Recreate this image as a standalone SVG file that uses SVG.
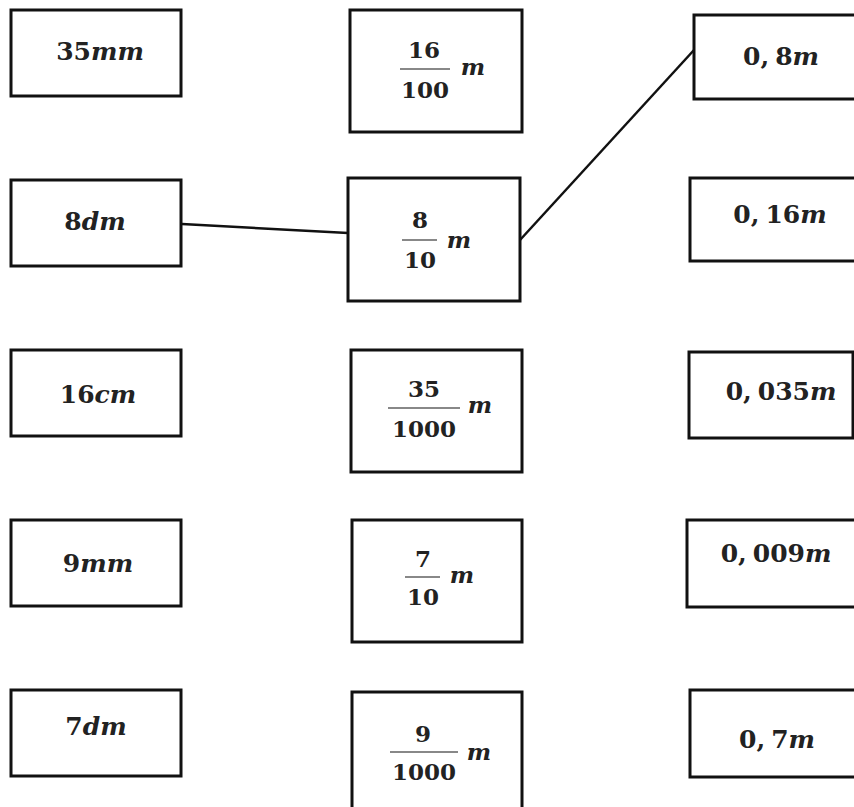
<svg xmlns="http://www.w3.org/2000/svg" width="854" height="807" viewBox="0 0 854 807">
<style>
.box{fill:#fff;stroke:#111;stroke-width:3}
.lbl{font-family:"DejaVu Serif","Liberation Serif",serif;font-size:25px;font-weight:bold;fill:#222;text-anchor:middle}
.fr{font-family:"DejaVu Serif","Liberation Serif",serif;font-size:23px;font-weight:bold;fill:#222;text-anchor:middle}
.u{font-style:italic;font-weight:bold}
.bar{stroke:#888;stroke-width:2}
.conn{stroke:#111;stroke-width:2.5;fill:none}
</style>
<rect width="854" height="807" fill="#fff"/>
<g id="connectors">
<line class="conn" x1="182" y1="224" x2="348" y2="233"/>
<line class="conn" x1="520" y1="240" x2="694" y2="50"/>
</g>
<g id="n-35mm"><rect class="box" x="11" y="10" width="170" height="86"/><text class="lbl" x="100" y="60">35<tspan class="u">mm</tspan></text></g>
<g id="n-8dm"><rect class="box" x="11" y="180" width="170" height="86"/><text class="lbl" x="95" y="230">8<tspan class="u">dm</tspan></text></g>
<g id="n-16cm"><rect class="box" x="11" y="350" width="170" height="86"/><text class="lbl" x="98" y="403">16<tspan class="u">cm</tspan></text></g>
<g id="n-9mm"><rect class="box" x="11" y="520" width="170" height="86"/><text class="lbl" x="98" y="572">9<tspan class="u">mm</tspan></text></g>
<g id="n-7dm"><rect class="box" x="11" y="690" width="170" height="86"/><text class="lbl" x="96" y="735">7<tspan class="u">dm</tspan></text></g>

<g id="n-16-100"><rect class="box" x="350" y="10" width="172" height="122"/>
<text class="fr" x="424" y="58">16</text><line class="bar" x1="400" y1="69" x2="450" y2="69"/><text class="fr" x="425" y="98">100</text><text class="fr u" x="473" y="75">m</text></g>
<g id="n-8-10"><rect class="box" x="348" y="178" width="172" height="123"/>
<text class="fr" x="420" y="228">8</text><line class="bar" x1="402" y1="240" x2="437" y2="240"/><text class="fr" x="420" y="268">10</text><text class="fr u" x="459" y="248">m</text></g>
<g id="n-35-1000"><rect class="box" x="351" y="350" width="171" height="122"/>
<text class="fr" x="424" y="397">35</text><line class="bar" x1="388" y1="408" x2="460" y2="408"/><text class="fr" x="424" y="437">1000</text><text class="fr u" x="480" y="413">m</text></g>
<g id="n-7-10"><rect class="box" x="352" y="520" width="170" height="122"/>
<text class="fr" x="423" y="567">7</text><line class="bar" x1="405" y1="577" x2="440" y2="577"/><text class="fr" x="423" y="605">10</text><text class="fr u" x="462" y="583">m</text></g>
<g id="n-9-1000"><rect class="box" x="352" y="692" width="170" height="125"/>
<text class="fr" x="423" y="742">9</text><line class="bar" x1="390" y1="752" x2="458" y2="752"/><text class="fr" x="424" y="780">1000</text><text class="fr u" x="479" y="760">m</text></g>

<g id="n-0-8m"><rect class="box" x="694" y="15" width="175" height="84"/><text class="lbl" x="781" y="65">0,<tspan dx="6">8</tspan><tspan class="u">m</tspan></text></g>
<g id="n-0-16m"><rect class="box" x="690" y="178" width="175" height="83"/><text class="lbl" x="780" y="223">0,<tspan dx="6">16</tspan><tspan class="u">m</tspan></text></g>
<g id="n-0-035m"><rect class="box" x="689" y="352" width="164" height="86"/><text class="lbl" x="781" y="400">0,<tspan dx="6">035</tspan><tspan class="u">m</tspan></text></g>
<g id="n-0-009m"><rect class="box" x="687" y="520" width="175" height="87"/><text class="lbl" x="776" y="562">0,<tspan dx="6">009</tspan><tspan class="u">m</tspan></text></g>
<g id="n-0-7m"><rect class="box" x="690" y="690" width="175" height="87"/><text class="lbl" x="777" y="748">0,<tspan dx="6">7</tspan><tspan class="u">m</tspan></text></g>
</svg>
